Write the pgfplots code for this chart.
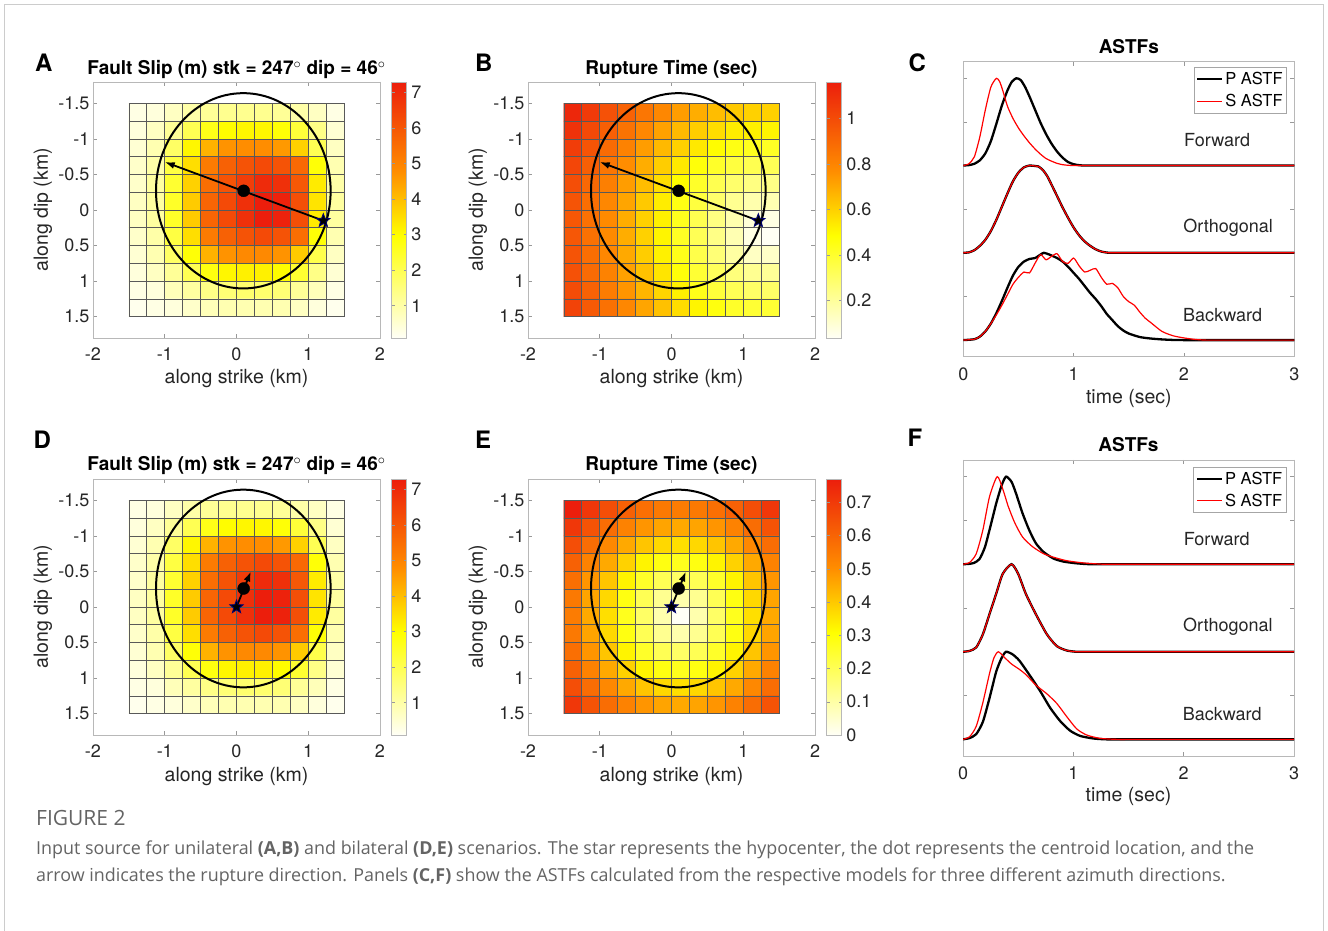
\documentclass[border=0pt]{standalone}
\usepackage{fontspec}
\setmainfont{TeX Gyre Heros}
\newfontfamily\capfont{Open Sans}
\usepackage{pgfplots}
\usepackage{pgfplotstable}
\pgfplotsset{compat=1.18}
\usetikzlibrary{arrows.meta}
\newcommand{\fs}[1]{\fontsize{#1pt}{#1pt}\selectfont}
\definecolor{capgray}{RGB}{100,100,100}
\pgfplotsset{colormap={wyr}{rgb255(0cm)=(255,255,246); rgb255(4cm)=(255,255,0); rgb255(6.5cm)=(255,142,0); rgb255(10cm)=(236,30,12)}}
\pgfdeclareplotmark{fstar}{%
  \pgfpathmoveto{\pgfpointpolar{90}{\pgfplotmarksize}}%
  \pgfpathlineto{\pgfpointpolar{126}{0.42\pgfplotmarksize}}%
  \pgfpathlineto{\pgfpointpolar{162}{\pgfplotmarksize}}%
  \pgfpathlineto{\pgfpointpolar{198}{0.42\pgfplotmarksize}}%
  \pgfpathlineto{\pgfpointpolar{234}{\pgfplotmarksize}}%
  \pgfpathlineto{\pgfpointpolar{270}{0.42\pgfplotmarksize}}%
  \pgfpathlineto{\pgfpointpolar{306}{\pgfplotmarksize}}%
  \pgfpathlineto{\pgfpointpolar{342}{0.42\pgfplotmarksize}}%
  \pgfpathlineto{\pgfpointpolar{18}{\pgfplotmarksize}}%
  \pgfpathlineto{\pgfpointpolar{54}{0.42\pgfplotmarksize}}%
  \pgfpathclose\pgfusepathqfillstroke}

\pgfplotstableread[row sep=\\]{
x y c\\
-1.375 -1.375 0.3\\ -1.125 -1.375 0.4\\ -0.875 -1.375 0.7\\ -0.625 -1.375 1.0\\ -0.375 -1.375 1.2\\ -0.125 -1.375 1.3\\ 0.125 -1.375 1.3\\ 0.375 -1.375 1.3\\ 0.625 -1.375 1.2\\ 0.875 -1.375 1.0\\ 1.125 -1.375 0.7\\ 1.375 -1.375 0.3\\
-1.375 -1.125 0.4\\ -1.125 -1.125 0.7\\ -0.875 -1.125 1.2\\ -0.625 -1.125 2.0\\ -0.375 -1.125 2.7\\ -0.125 -1.125 3.0\\ 0.125 -1.125 3.1\\ 0.375 -1.125 3.1\\ 0.625 -1.125 2.9\\ 0.875 -1.125 2.3\\ 1.125 -1.125 1.4\\ 1.375 -1.125 0.5\\
-1.375 -0.875 0.5\\ -1.125 -0.875 0.9\\ -0.875 -0.875 1.8\\ -0.625 -0.875 3.1\\ -0.375 -0.875 4.2\\ -0.125 -0.875 4.7\\ 0.125 -0.875 4.8\\ 0.375 -0.875 4.8\\ 0.625 -0.875 4.6\\ 0.875 -0.875 3.7\\ 1.125 -0.875 2.0\\ 1.375 -0.875 0.7\\
-1.375 -0.625 0.6\\ -1.125 -0.625 1.0\\ -0.875 -0.625 2.2\\ -0.625 -0.625 3.5\\ -0.375 -0.625 5.2\\ -0.125 -0.625 5.8\\ 0.125 -0.625 6.1\\ 0.375 -0.625 6.3\\ 0.625 -0.625 6.1\\ 0.875 -0.625 5.6\\ 1.125 -0.625 2.9\\ 1.375 -0.625 0.9\\
-1.375 -0.375 0.6\\ -1.125 -0.375 1.1\\ -0.875 -0.375 2.4\\ -0.625 -0.375 3.7\\ -0.375 -0.375 5.5\\ -0.125 -0.375 6.1\\ 0.125 -0.375 6.6\\ 0.375 -0.375 7.0\\ 0.625 -0.375 6.9\\ 0.875 -0.375 6.0\\ 1.125 -0.375 3.3\\ 1.375 -0.375 1.0\\
-1.375 -0.125 0.7\\ -1.125 -0.125 1.1\\ -0.875 -0.125 2.5\\ -0.625 -0.125 3.8\\ -0.375 -0.125 5.7\\ -0.125 -0.125 6.3\\ 0.125 -0.125 6.9\\ 0.375 -0.125 7.3\\ 0.625 -0.125 7.2\\ 0.875 -0.125 6.2\\ 1.125 -0.125 3.4\\ 1.375 -0.125 1.1\\
-1.375 0.125 0.7\\ -1.125 0.125 1.1\\ -0.875 0.125 2.5\\ -0.625 0.125 3.8\\ -0.375 0.125 5.7\\ -0.125 0.125 6.3\\ 0.125 0.125 6.9\\ 0.375 0.125 7.3\\ 0.625 0.125 7.2\\ 0.875 0.125 6.2\\ 1.125 0.125 3.3\\ 1.375 0.125 1.1\\
-1.375 0.375 0.6\\ -1.125 0.375 1.0\\ -0.875 0.375 2.2\\ -0.625 0.375 3.5\\ -0.375 0.375 5.2\\ -0.125 0.375 5.8\\ 0.125 0.375 6.1\\ 0.375 0.375 6.3\\ 0.625 0.375 6.1\\ 0.875 0.375 5.5\\ 1.125 0.375 2.9\\ 1.375 0.375 0.9\\
-1.375 0.625 0.5\\ -1.125 0.625 0.9\\ -0.875 0.625 1.8\\ -0.625 0.625 2.9\\ -0.375 0.625 4.2\\ -0.125 0.625 4.7\\ 0.125 0.625 4.9\\ 0.375 0.625 4.9\\ 0.625 0.625 4.7\\ 0.875 0.625 3.8\\ 1.125 0.625 2.1\\ 1.375 0.625 0.7\\
-1.375 0.875 0.4\\ -1.125 0.875 0.7\\ -0.875 0.875 1.2\\ -0.625 0.875 2.0\\ -0.375 0.875 2.8\\ -0.125 0.875 3.1\\ 0.125 0.875 3.2\\ 0.375 0.875 3.2\\ 0.625 0.875 3.0\\ 0.875 0.875 2.4\\ 1.125 0.875 1.4\\ 1.375 0.875 0.5\\
-1.375 1.125 0.3\\ -1.125 1.125 0.4\\ -0.875 1.125 0.8\\ -0.625 1.125 1.1\\ -0.375 1.125 1.4\\ -0.125 1.125 1.6\\ 0.125 1.125 1.7\\ 0.375 1.125 1.7\\ 0.625 1.125 1.6\\ 0.875 1.125 1.2\\ 1.125 1.125 0.8\\ 1.375 1.125 0.3\\
-1.375 1.375 0.2\\ -1.125 1.375 0.3\\ -0.875 1.375 0.4\\ -0.625 1.375 0.6\\ -0.375 1.375 0.8\\ -0.125 1.375 0.9\\ 0.125 1.375 0.9\\ 0.375 1.375 0.9\\ 0.625 1.375 0.9\\ 0.875 1.375 0.7\\ 1.125 1.375 0.4\\ 1.375 1.375 0.2\\
}\slip

\pgfplotstableread[row sep=\\]{
x y c\\
-1.375 -1.375 1.13\\ -1.125 -1.375 1.06\\ -0.875 -1.375 0.98\\ -0.625 -1.375 0.92\\ -0.375 -1.375 0.85\\ -0.125 -1.375 0.79\\ 0.125 -1.375 0.73\\ 0.375 -1.375 0.69\\ 0.625 -1.375 0.65\\ 0.875 -1.375 0.62\\ 1.125 -1.375 0.60\\ 1.375 -1.375 0.60\\
-1.375 -1.125 1.09\\ -1.125 -1.125 1.01\\ -0.875 -1.125 0.93\\ -0.625 -1.125 0.86\\ -0.375 -1.125 0.79\\ -0.125 -1.125 0.72\\ 0.125 -1.125 0.66\\ 0.375 -1.125 0.61\\ 0.625 -1.125 0.57\\ 0.875 -1.125 0.53\\ 1.125 -1.125 0.52\\ 1.375 -1.125 0.51\\
-1.375 -0.875 1.05\\ -1.125 -0.875 0.97\\ -0.875 -0.875 0.89\\ -0.625 -0.875 0.81\\ -0.375 -0.875 0.73\\ -0.125 -0.875 0.66\\ 0.125 -0.875 0.60\\ 0.375 -0.875 0.54\\ 0.625 -0.875 0.49\\ 0.875 -0.875 0.45\\ 1.125 -0.875 0.43\\ 1.375 -0.875 0.42\\
-1.375 -0.625 1.02\\ -1.125 -0.625 0.93\\ -0.875 -0.625 0.85\\ -0.625 -0.625 0.77\\ -0.375 -0.625 0.69\\ -0.125 -0.625 0.61\\ 0.125 -0.625 0.54\\ 0.375 -0.625 0.47\\ 0.625 -0.625 0.41\\ 0.875 -0.625 0.37\\ 1.125 -0.625 0.34\\ 1.375 -0.625 0.33\\
-1.375 -0.375 0.99\\ -1.125 -0.375 0.90\\ -0.875 -0.375 0.82\\ -0.625 -0.375 0.73\\ -0.375 -0.375 0.65\\ -0.125 -0.375 0.57\\ 0.125 -0.375 0.49\\ 0.375 -0.375 0.41\\ 0.625 -0.375 0.34\\ 0.875 -0.375 0.29\\ 1.125 -0.375 0.25\\ 1.375 -0.375 0.24\\
-1.375 -0.125 0.97\\ -1.125 -0.125 0.88\\ -0.875 -0.125 0.79\\ -0.625 -0.125 0.71\\ -0.375 -0.125 0.62\\ -0.125 -0.125 0.53\\ 0.125 -0.125 0.45\\ 0.375 -0.125 0.37\\ 0.625 -0.125 0.29\\ 0.875 -0.125 0.22\\ 1.125 -0.125 0.17\\ 1.375 -0.125 0.16\\
-1.375 0.125 0.96\\ -1.125 0.125 0.87\\ -0.875 0.125 0.78\\ -0.625 0.125 0.69\\ -0.375 0.125 0.60\\ -0.125 0.125 0.52\\ 0.125 0.125 0.43\\ 0.375 0.125 0.34\\ 0.625 0.125 0.25\\ 0.875 0.125 0.17\\ 1.125 0.125 0.09\\ 1.375 0.125 0.07\\
-1.375 0.375 0.96\\ -1.125 0.375 0.87\\ -0.875 0.375 0.78\\ -0.625 0.375 0.69\\ -0.375 0.375 0.60\\ -0.125 0.375 0.51\\ 0.125 0.375 0.42\\ 0.375 0.375 0.33\\ 0.625 0.375 0.24\\ 0.875 0.375 0.16\\ 1.125 0.375 0.07\\ 1.375 0.375 0.04\\
-1.375 0.625 0.97\\ -1.125 0.625 0.88\\ -0.875 0.625 0.79\\ -0.625 0.625 0.70\\ -0.375 0.625 0.61\\ -0.125 0.625 0.52\\ 0.125 0.625 0.44\\ 0.375 0.625 0.35\\ 0.625 0.625 0.27\\ 0.875 0.625 0.19\\ 1.125 0.625 0.13\\ 1.375 0.625 0.12\\
-1.375 0.875 0.98\\ -1.125 0.875 0.89\\ -0.875 0.875 0.81\\ -0.625 0.875 0.72\\ -0.375 0.875 0.64\\ -0.125 0.875 0.55\\ 0.125 0.875 0.47\\ 0.375 0.875 0.39\\ 0.625 0.875 0.32\\ 0.875 0.875 0.26\\ 1.125 0.875 0.22\\ 1.375 0.875 0.21\\
-1.375 1.125 1.00\\ -1.125 1.125 0.92\\ -0.875 1.125 0.83\\ -0.625 1.125 0.75\\ -0.375 1.125 0.67\\ -0.125 1.125 0.59\\ 0.125 1.125 0.52\\ 0.375 1.125 0.44\\ 0.625 1.125 0.38\\ 0.875 1.125 0.33\\ 1.125 1.125 0.30\\ 1.375 1.125 0.30\\
-1.375 1.375 1.03\\ -1.125 1.375 0.95\\ -0.875 1.375 0.87\\ -0.625 1.375 0.79\\ -0.375 1.375 0.71\\ -0.125 1.375 0.64\\ 0.125 1.375 0.57\\ 0.375 1.375 0.51\\ 0.625 1.375 0.46\\ 0.875 1.375 0.41\\ 1.125 1.375 0.39\\ 1.375 1.375 0.39\\
}\rtuni

\pgfplotstableread[row sep=\\]{
x y c\\
-1.375 -1.375 0.770\\ -1.125 -1.375 0.709\\ -0.875 -1.375 0.655\\ -0.625 -1.375 0.609\\ -0.375 -1.375 0.574\\ -0.125 -1.375 0.552\\ 0.125 -1.375 0.545\\ 0.375 -1.375 0.552\\ 0.625 -1.375 0.574\\ 0.875 -1.375 0.609\\ 1.125 -1.375 0.655\\ 1.375 -1.375 0.709\\
-1.375 -1.125 0.709\\ -1.125 -1.125 0.642\\ -0.875 -1.125 0.581\\ -0.625 -1.125 0.529\\ -0.375 -1.125 0.489\\ -0.125 -1.125 0.463\\ 0.125 -1.125 0.454\\ 0.375 -1.125 0.463\\ 0.625 -1.125 0.489\\ 0.875 -1.125 0.529\\ 1.125 -1.125 0.581\\ 1.375 -1.125 0.642\\
-1.375 -0.875 0.655\\ -1.125 -0.875 0.581\\ -0.875 -0.875 0.514\\ -0.625 -0.875 0.454\\ -0.375 -0.875 0.406\\ -0.125 -0.875 0.374\\ 0.125 -0.875 0.363\\ 0.375 -0.875 0.374\\ 0.625 -0.875 0.406\\ 0.875 -0.875 0.454\\ 1.125 -0.875 0.514\\ 1.375 -0.875 0.581\\
-1.375 -0.625 0.609\\ -1.125 -0.625 0.529\\ -0.875 -0.625 0.454\\ -0.625 -0.625 0.385\\ -0.375 -0.625 0.327\\ -0.125 -0.625 0.287\\ 0.125 -0.625 0.272\\ 0.375 -0.625 0.287\\ 0.625 -0.625 0.327\\ 0.875 -0.625 0.385\\ 1.125 -0.625 0.454\\ 1.375 -0.625 0.529\\
-1.375 -0.375 0.574\\ -1.125 -0.375 0.489\\ -0.875 -0.375 0.406\\ -0.625 -0.375 0.327\\ -0.375 -0.375 0.257\\ -0.125 -0.375 0.203\\ 0.125 -0.375 0.182\\ 0.375 -0.375 0.203\\ 0.625 -0.375 0.257\\ 0.875 -0.375 0.327\\ 1.125 -0.375 0.406\\ 1.375 -0.375 0.489\\
-1.375 -0.125 0.552\\ -1.125 -0.125 0.463\\ -0.875 -0.125 0.374\\ -0.625 -0.125 0.287\\ -0.375 -0.125 0.203\\ -0.125 -0.125 0.128\\ 0.125 -0.125 0.091\\ 0.375 -0.125 0.128\\ 0.625 -0.125 0.203\\ 0.875 -0.125 0.287\\ 1.125 -0.125 0.374\\ 1.375 -0.125 0.463\\
-1.375 0.125 0.545\\ -1.125 0.125 0.454\\ -0.875 0.125 0.363\\ -0.625 0.125 0.272\\ -0.375 0.125 0.182\\ -0.125 0.125 0.091\\ 0.125 0.125 0.000\\ 0.375 0.125 0.091\\ 0.625 0.125 0.182\\ 0.875 0.125 0.272\\ 1.125 0.125 0.363\\ 1.375 0.125 0.454\\
-1.375 0.375 0.552\\ -1.125 0.375 0.463\\ -0.875 0.375 0.374\\ -0.625 0.375 0.287\\ -0.375 0.375 0.203\\ -0.125 0.375 0.128\\ 0.125 0.375 0.091\\ 0.375 0.375 0.128\\ 0.625 0.375 0.203\\ 0.875 0.375 0.287\\ 1.125 0.375 0.374\\ 1.375 0.375 0.463\\
-1.375 0.625 0.574\\ -1.125 0.625 0.489\\ -0.875 0.625 0.406\\ -0.625 0.625 0.327\\ -0.375 0.625 0.257\\ -0.125 0.625 0.203\\ 0.125 0.625 0.182\\ 0.375 0.625 0.203\\ 0.625 0.625 0.257\\ 0.875 0.625 0.327\\ 1.125 0.625 0.406\\ 1.375 0.625 0.489\\
-1.375 0.875 0.609\\ -1.125 0.875 0.529\\ -0.875 0.875 0.454\\ -0.625 0.875 0.385\\ -0.375 0.875 0.327\\ -0.125 0.875 0.287\\ 0.125 0.875 0.272\\ 0.375 0.875 0.287\\ 0.625 0.875 0.327\\ 0.875 0.875 0.385\\ 1.125 0.875 0.454\\ 1.375 0.875 0.529\\
-1.375 1.125 0.655\\ -1.125 1.125 0.581\\ -0.875 1.125 0.514\\ -0.625 1.125 0.454\\ -0.375 1.125 0.406\\ -0.125 1.125 0.374\\ 0.125 1.125 0.363\\ 0.375 1.125 0.374\\ 0.625 1.125 0.406\\ 0.875 1.125 0.454\\ 1.125 1.125 0.514\\ 1.375 1.125 0.581\\
-1.375 1.375 0.709\\ -1.125 1.375 0.642\\ -0.875 1.375 0.581\\ -0.625 1.375 0.529\\ -0.375 1.375 0.489\\ -0.125 1.375 0.463\\ 0.125 1.375 0.454\\ 0.375 1.375 0.463\\ 0.625 1.375 0.489\\ 0.875 1.375 0.529\\ 1.125 1.375 0.581\\ 1.375 1.375 0.642\\
}\rtbil

\newcommand{\cellgrid}{\pgfplotsinvokeforeach{-1.5,-1.25,-1,-0.75,-0.5,-0.25,0,0.25,0.5,0.75,1,1.25,1.5}{%
  \draw[draw=black!65,line width=0.7pt] (axis cs:##1,-1.5) -- (axis cs:##1,1.5);
  \draw[draw=black!65,line width=0.7pt] (axis cs:-1.5,##1) -- (axis cs:1.5,##1);}}
\newcommand{\uniover}{%
  \draw[black, line width=2pt] (axis cs:0.095,-0.27) ellipse [x radius=1.217, y radius=1.373];
  \addplot[black, line width=1.8pt, -{Latex[length=10pt,width=7pt]}] coordinates {(1.21,0.15) (-1.0,-0.675)};
  \addplot[only marks, mark=*, mark size=6pt, black] coordinates {(0.1,-0.27)};
  \addplot[only marks, mark=fstar, mark size=7pt, mark options={fill=black, draw=blue!45!black, line width=0.8pt}] coordinates {(1.21,0.15)};}
\newcommand{\bilover}{%
  \draw[black, line width=2pt] (axis cs:0.095,-0.26) ellipse [x radius=1.217, y radius=1.39];
  \addplot[black, line width=1.8pt, -{Latex[length=10pt,width=7pt]}] coordinates {(0,0) (0.2,-0.5)};
  \addplot[only marks, mark=*, mark size=6pt, black] coordinates {(0.1,-0.26)};
  \addplot[only marks, mark=fstar, mark size=7pt, mark options={fill=black, draw=blue!45!black, line width=0.8pt}] coordinates {(0,0)};}

\pgfplotsset{
 hm/.style={
  scale only axis, width=287pt, height=256pt,
  xmin=-2, xmax=2, ymin=-1.8, ymax=1.8, y dir=reverse,
  xtick={-2,-1,0,1,2}, xticklabels={-2,-1,0,1,2},
  ytick={-1.5,-1,-0.5,0,0.5,1,1.5}, yticklabels={-1.5,-1,-0.5,0,0.5,1,1.5},
  tick align=inside, tick pos=both, major tick length=4pt,
  axis line style={draw=black!28, line width=0.8pt},
  every tick/.style={draw=black!40, line width=0.6pt},
  ticklabel style={font=\fs{18}, text=black!85},
  xticklabel style={anchor=base, yshift=-23pt},
  xlabel={along strike (km)}, ylabel={along dip (km)},
  label style={font=\fs{19.5}, text=black!85},
  ylabel style={at={(axis description cs:-0.1742,0.5)}, anchor=center},
  title style={font=\bfseries\fs{19}},
  colormap name=wyr, colorbar,
  colorbar style={at={(parent axis.north east)}, anchor=north west, xshift=3.2pt,
    width=15pt, height=256pt, scale only axis, y dir=normal, title={}, xlabel={}, ylabel={},
    tick align=inside, major tick length=3pt,
    axis line style={draw=black!28, line width=0.8pt}, every tick/.style={draw=black!40},
    yticklabel style={font=\fs{18}, text=black!85, anchor=west, inner sep=0pt, xshift=4.5pt}},
 },
 astf/.style={
  scale only axis, width=331pt, height=295pt,
  xmin=0, xmax=3, ymin=-0.19, ymax=3.19,
  xtick={0,1,2,3}, xticklabels={0,1,2,3},
  ytick={0,0.5,1,1.5,2,2.5,3}, yticklabels={},
  tick align=inside, tick pos=both, major tick length=4pt,
  axis line style={draw=black!28, line width=0.8pt},
  every tick/.style={draw=black!40, line width=0.6pt},
  ticklabel style={font=\fs{18}, text=black!85},
  xticklabel style={anchor=base, yshift=-24pt},
  xlabel={time (sec)}, title={ASTFs},
  label style={font=\fs{19.5}, text=black!85},
  title style={font=\bfseries\fs{19}},
  legend style={at={(axis description cs:1,1)}, anchor=north east, xshift=-7.3pt, yshift=-5.3pt,
    draw=black!35, line width=0.8pt, font=\fs{16.5}, inner xsep=2pt, inner ysep=3pt, row sep=4pt},
  legend cell align=left,
  legend image code/.code={\draw[##1] (0pt,0pt) -- (25pt,0pt);},
 },
 pline/.style={black, line width=2.3pt, smooth, tension=0.4},
 sline/.style={red, line width=1.2pt, smooth, tension=0.4},
}

\begin{document}
\begin{tikzpicture}
\fill[white] (0,0) rectangle (1328pt,931pt);
\path[use as bounding box] (0,0) rectangle (1328pt,931pt);
\draw[black!20, line width=1pt] (4.5pt,0pt) -- (4.5pt,926.5pt) -- (1323.5pt,926.5pt) -- (1323.5pt,0pt);

% ---------- A ----------
\begin{axis}[hm, at={(93pt,593pt)}, anchor=south west,
  title={Fault Slip (m) stk = 247$^{\circ}$ dip = 46$^{\circ}$},
  title style={at={(axis description cs:0.5,1.005)}, anchor=base},
  xlabel style={at={(axis description cs:0.5,-0.177)}, anchor=base},
  point meta min=0.09, point meta max=7.3,
  colorbar style={ytick={1,2,3,4,5,6,7}, yticklabels={1,2,3,4,5,6,7}}]
\addplot[matrix plot*, mesh/cols=12, point meta=explicit] table[x=x, y=y, meta=c] {\slip};
\cellgrid
\uniover
\end{axis}

% ---------- B ----------
\begin{axis}[hm, at={(528pt,593pt)}, anchor=south west,
  title={Rupture Time (sec)},
  title style={at={(axis description cs:0.5,1.005)}, anchor=base},
  xlabel style={at={(axis description cs:0.5,-0.177)}, anchor=base},
  point meta min=0.036, point meta max=1.16,
  colorbar style={ytick={0.2,0.4,0.6,0.8,1}, yticklabels={0.2,0.4,0.6,0.8,1}}]
\addplot[matrix plot*, mesh/cols=12, point meta=explicit] table[x=x, y=y, meta=c] {\rtuni};
\cellgrid
\uniover
\end{axis}

% ---------- C ----------
\begin{axis}[astf, at={(963.3pt,574.3pt)}, anchor=south west,
  title style={at={(axis description cs:0.5,1.008)}, anchor=base},
  xlabel style={at={(axis description cs:0.5,-0.158)}, anchor=base}]
\addplot[pline] coordinates {(0,2) (0.05,2.005) (0.1,2.02) (0.15,2.06) (0.2,2.14) (0.25,2.28) (0.3,2.48) (0.35,2.69) (0.4,2.86) (0.44,2.96) (0.48,3.0) (0.52,2.98) (0.56,2.9) (0.6,2.79) (0.65,2.64) (0.7,2.49) (0.75,2.36) (0.8,2.25) (0.85,2.16) (0.9,2.09) (0.95,2.04) (1.0,2.015) (1.05,2.004) (1.1,2) (1.2,2) (1.35,2) (1.55,2) (1.8,2) (2.1,2) (2.4,2) (2.7,2) (3,2)};
\addlegendentry{P ASTF}
\addplot[sline] coordinates {(0,2) (0.05,2.02) (0.1,2.1) (0.15,2.33) (0.2,2.64) (0.25,2.9) (0.3,3.0) (0.33,2.96) (0.36,2.85) (0.4,2.68) (0.45,2.54) (0.5,2.43) (0.55,2.34) (0.6,2.26) (0.65,2.19) (0.7,2.13) (0.75,2.08) (0.8,2.05) (0.85,2.025) (0.9,2.01) (0.95,2.003) (1.0,2) (1.1,2) (1.25,2) (1.45,2) (1.7,2) (2.0,2) (2.3,2) (2.6,2) (3,2)};
\addlegendentry{S ASTF}
\addplot[pline, forget plot] coordinates {(0,1) (0.05,1.005) (0.1,1.03) (0.15,1.08) (0.2,1.15) (0.25,1.25) (0.3,1.38) (0.35,1.53) (0.4,1.68) (0.45,1.82) (0.5,1.92) (0.55,1.98) (0.6,2.0) (0.65,1.995) (0.68,1.99) (0.72,1.95) (0.76,1.88) (0.8,1.78) (0.85,1.65) (0.9,1.52) (0.95,1.4) (1.0,1.29) (1.05,1.2) (1.1,1.13) (1.15,1.08) (1.2,1.04) (1.25,1.015) (1.3,1.003) (1.35,1) (1.45,1) (1.6,1) (1.8,1) (2.05,1) (2.35,1) (2.65,1) (3,1)};
\addplot[sline, forget plot] coordinates {(0,1) (0.05,1.005) (0.1,1.03) (0.15,1.08) (0.2,1.15) (0.25,1.25) (0.3,1.38) (0.35,1.53) (0.4,1.68) (0.45,1.82) (0.5,1.92) (0.55,1.98) (0.6,2.0) (0.65,1.995) (0.68,1.99) (0.72,1.95) (0.76,1.88) (0.8,1.78) (0.85,1.65) (0.9,1.52) (0.95,1.4) (1.0,1.29) (1.05,1.2) (1.1,1.13) (1.15,1.08) (1.2,1.04) (1.25,1.015) (1.3,1.003) (1.35,1) (1.45,1) (1.6,1) (1.8,1) (2.05,1) (2.35,1) (2.65,1) (3,1)};
\addplot[pline, forget plot] coordinates {(0,0) (0.1,0.01) (0.15,0.04) (0.2,0.1) (0.25,0.19) (0.3,0.31) (0.35,0.45) (0.4,0.6) (0.45,0.74) (0.5,0.84) (0.55,0.9) (0.6,0.93) (0.65,0.94) (0.7,0.98) (0.73,1.0) (0.78,0.98) (0.85,0.94) (0.9,0.9) (0.95,0.84) (1.0,0.77) (1.05,0.7) (1.1,0.62) (1.15,0.54) (1.2,0.47) (1.25,0.39) (1.3,0.3) (1.35,0.23) (1.4,0.16) (1.45,0.11) (1.5,0.075) (1.6,0.035) (1.7,0.018) (1.8,0.008) (1.9,0.002) (2.0,0) (2.15,0) (2.35,0) (2.6,0) (2.8,0) (3,0)};
\addplot[sline, forget plot] coordinates {(0,0) (0.1,0.01) (0.15,0.04) (0.2,0.1) (0.25,0.19) (0.3,0.29) (0.35,0.4) (0.4,0.52) (0.45,0.64) (0.5,0.72) (0.55,0.78) (0.6,0.77) (0.65,0.88) (0.7,0.98) (0.75,0.92) (0.8,0.96) (0.85,0.99) (0.9,0.9) (0.95,0.88) (1.0,0.94) (1.05,0.85) (1.1,0.78) (1.15,0.8) (1.2,0.82) (1.25,0.72) (1.3,0.64) (1.35,0.65) (1.4,0.6) (1.45,0.5) (1.5,0.44) (1.55,0.4) (1.6,0.32) (1.65,0.25) (1.7,0.2) (1.8,0.1) (1.9,0.05) (2.0,0.025) (2.1,0.008) (2.2,0) (2.35,0) (2.55,0) (2.75,0) (3,0)};
\node[font=\fs{18}, text=black!85] at (axis cs:2.30,2.29) {Forward};
\node[font=\fs{18}, text=black!85] at (axis cs:2.40,1.29) {Orthogonal};
\node[font=\fs{18}, text=black!85] at (axis cs:2.35,0.29) {Backward};
\end{axis}

% ---------- D ----------
\begin{axis}[hm, at={(93pt,196pt)}, anchor=south west,
  title={Fault Slip (m) stk = 247$^{\circ}$ dip = 46$^{\circ}$},
  title style={at={(axis description cs:0.5,1.009)}, anchor=base},
  xlabel style={at={(axis description cs:0.5,-0.182)}, anchor=base},
  point meta min=0.09, point meta max=7.3,
  colorbar style={ytick={1,2,3,4,5,6,7}, yticklabels={1,2,3,4,5,6,7}}]
\addplot[matrix plot*, mesh/cols=12, point meta=explicit] table[x=x, y=y, meta=c] {\slip};
\cellgrid
\bilover
\end{axis}

% ---------- E ----------
\begin{axis}[hm, at={(528pt,196pt)}, anchor=south west,
  title={Rupture Time (sec)},
  title style={at={(axis description cs:0.5,1.009)}, anchor=base},
  xlabel style={at={(axis description cs:0.5,-0.182)}, anchor=base},
  point meta min=0, point meta max=0.77,
  colorbar style={ytick={0,0.1,0.2,0.3,0.4,0.5,0.6,0.7}, yticklabels={0,0.1,0.2,0.3,0.4,0.5,0.6,0.7}}]
\addplot[matrix plot*, mesh/cols=12, point meta=explicit] table[x=x, y=y, meta=c] {\rtbil};
\cellgrid
\bilover
\end{axis}

% ---------- F ----------
\begin{axis}[astf, at={(963pt,175pt)}, anchor=south west, height=296pt,
  title style={at={(axis description cs:0.5,1.0078)}, anchor=base},
  xlabel style={at={(axis description cs:0.5,-0.1544)}, anchor=base},
  legend style={yshift=-1.4pt}]
\addplot[pline] coordinates {(0,2) (0.05,2.003) (0.1,2.015) (0.15,2.06) (0.2,2.2) (0.25,2.44) (0.3,2.69) (0.35,2.9) (0.39,3.0) (0.44,2.94) (0.48,2.81) (0.54,2.58) (0.6,2.39) (0.66,2.24) (0.73,2.14) (0.82,2.065) (0.91,2.03) (1.03,2.01) (1.15,2) (1.3,2) (1.5,2) (1.75,2) (2.05,2) (2.35,2) (2.65,2) (3,2)};
\addlegendentry{P ASTF}
\addplot[sline] coordinates {(0,2) (0.06,2.02) (0.12,2.12) (0.18,2.39) (0.24,2.77) (0.31,3.0) (0.36,2.86) (0.41,2.66) (0.47,2.47) (0.54,2.31) (0.63,2.2) (0.73,2.12) (0.82,2.08) (0.94,2.04) (1.09,2.015) (1.27,2) (1.45,2) (1.7,2) (2.0,2) (2.3,2) (2.6,2) (3,2)};
\addlegendentry{S ASTF}
\addplot[pline, forget plot] coordinates {(0,1) (0.06,1.01) (0.12,1.05) (0.18,1.2) (0.24,1.43) (0.3,1.66) (0.36,1.89) (0.44,2.0) (0.5,1.89) (0.57,1.66) (0.66,1.43) (0.76,1.2) (0.85,1.065) (0.94,1.015) (1.03,1) (1.13,1) (1.28,1) (1.5,1) (1.75,1) (2.05,1) (2.35,1) (2.65,1) (3,1)};
\addplot[sline, forget plot] coordinates {(0,1) (0.06,1.01) (0.12,1.05) (0.18,1.2) (0.24,1.43) (0.3,1.66) (0.36,1.89) (0.44,2.0) (0.5,1.89) (0.57,1.66) (0.66,1.43) (0.76,1.2) (0.85,1.065) (0.94,1.015) (1.03,1) (1.13,1) (1.28,1) (1.5,1) (1.75,1) (2.05,1) (2.35,1) (2.65,1) (3,1)};
\addplot[pline, forget plot] coordinates {(0,0) (0.06,0.015) (0.12,0.06) (0.18,0.2) (0.24,0.47) (0.3,0.77) (0.35,0.93) (0.39,1.0) (0.45,0.97) (0.51,0.9) (0.6,0.74) (0.7,0.55) (0.79,0.36) (0.88,0.21) (0.97,0.1) (1.06,0.04) (1.18,0.01) (1.3,0) (1.45,0) (1.65,0) (1.9,0) (2.2,0) (2.5,0) (2.75,0) (3,0)};
\addplot[sline, forget plot] coordinates {(0,0) (0.06,0.03) (0.12,0.15) (0.18,0.42) (0.24,0.75) (0.28,0.93) (0.32,1.0) (0.38,0.93) (0.44,0.86) (0.51,0.8) (0.57,0.74) (0.66,0.62) (0.76,0.52) (0.85,0.41) (0.94,0.26) (1.03,0.12) (1.12,0.05) (1.24,0.012) (1.39,0) (1.55,0) (1.75,0) (2.0,0) (2.3,0) (2.6,0) (3,0)};
\node[font=\fs{18}, text=black!85] at (axis cs:2.30,2.29) {Forward};
\node[font=\fs{18}, text=black!85] at (axis cs:2.40,1.29) {Orthogonal};
\node[font=\fs{18}, text=black!85] at (axis cs:2.35,0.29) {Backward};
\end{axis}

% ---------- panel letters ----------
\node[anchor=base west, font=\bfseries\fs{24}] at (31.7pt,859.3pt) {A};
\node[anchor=base west, font=\bfseries\fs{24}] at (471.7pt,859.3pt) {B};
\node[anchor=base west, font=\bfseries\fs{24}] at (905pt,859.3pt) {C};
\node[anchor=base west, font=\bfseries\fs{24}] at (30pt,482.7pt) {D};
\node[anchor=base west, font=\bfseries\fs{24}] at (471.7pt,482.7pt) {E};
\node[anchor=base west, font=\bfseries\fs{24}] at (904pt,484pt) {F};

% ---------- caption ----------
\node[anchor=base west, inner sep=0pt, font=\capfont\fs{21}, text=capgray] at (36pt,105pt) {FIGURE 2};
\node[anchor=base west, inner sep=0pt, font=\capfont\fs{17.9}, text=capgray] at (36pt,76pt) {Input source for unilateral \textbf{(A,B)} and bilateral \textbf{(D,E)} scenarios. The star represents the hypocenter, the dot represents the centroid location, and the};
\node[anchor=base west, inner sep=0pt, font=\capfont\fs{17.9}, text=capgray] at (36pt,49pt) {arrow indicates the rupture direction. Panels \textbf{(C,F)} show the ASTFs calculated from the respective models for three different azimuth directions.};
\end{tikzpicture}
\end{document}
